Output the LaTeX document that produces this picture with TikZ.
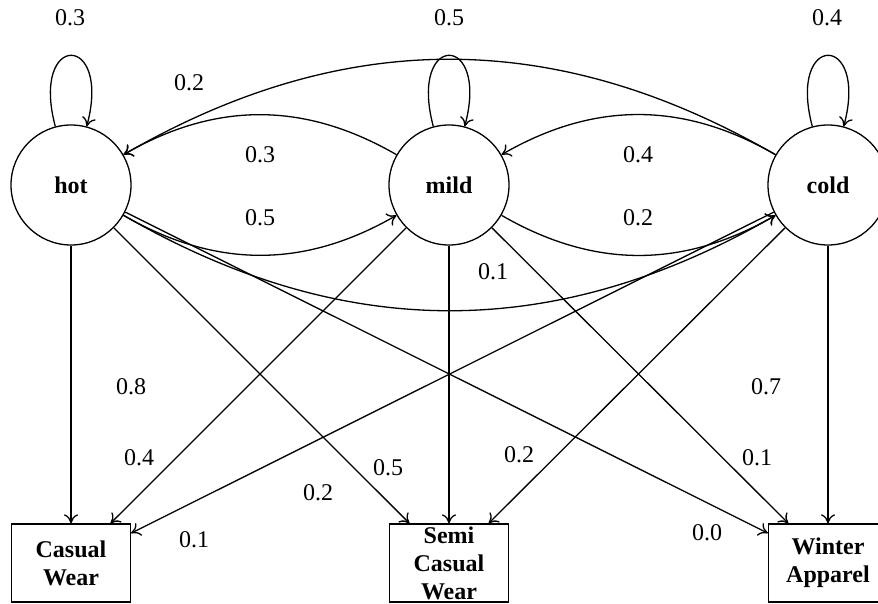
\documentclass[tikz,border=0pt]{standalone}
\usepackage{fontspec}
\setmainfont{Liberation Serif}
\usetikzlibrary{arrows.meta}

\begin{document}
\begin{tikzpicture}[x=1pt,y=1pt,line width=1.3pt,
  font=\fontsize{24}{28}\selectfont,
  >={Computer Modern Rightarrow[length=9pt,width=14pt]},
  wstate/.style={draw,circle,minimum size=120pt,inner sep=0pt,
    font=\fontsize{24}{28}\selectfont\bfseries},
  wear/.style={draw,rectangle,minimum width=119pt,minimum height=78pt,
    inner sep=0pt,align=center,font=\fontsize{24}{28}\selectfont\bfseries}]
\useasboundingbox (0,0) rectangle (878,603);
% hidden states
\node[wstate] (hot) at (71,418) {hot};
\node[wstate] (mild) at (449,418) {mild};
\node[wstate] (cold) at (828,418) {cold};
% observations
\node[wear] (casual) at (71,40) {Casual\\Wear};
\node[wear] (semi) at (449,40) {Semi\\Casual\\Wear};
\node[wear] (winter) at (828,40) {Winter\\Apparel};
% transitions
\draw[->] (hot) to[out=105,in=75,looseness=8] (hot);
\draw[->] (mild) to[out=105,in=75,looseness=8] (mild);
\draw[->] (cold) to[out=105,in=75,looseness=8] (cold);
\draw[->] (hot) to[bend right=30] (mild);
\draw[->] (mild) to[bend right=30] (hot);
\draw[->] (mild) to[bend right=30] (cold);
\draw[->] (cold) to[bend right=30] (mild);
\draw[->] (hot) to[bend right=30] (cold);
\draw[->] (cold) to[bend right=30] (hot);
% emissions
\draw[->] (hot) -- (casual);
\draw[->] (hot) -- (semi);
\draw[->] (hot) -- (winter);
\draw[->] (mild) -- (casual);
\draw[->] (mild) -- (semi);
\draw[->] (mild) -- (winter);
\draw[->] (cold) -- (casual);
\draw[->] (cold) -- (semi);
\draw[->] (cold) -- (winter);
% probabilities
\draw (70,585) node (phh) {0.3};
\draw (449,585) node (pmm) {0.5};
\draw (827,585) node (pcc) {0.4};
\draw (189,520) node (pch) {0.2};
\draw (260,448) node (pmh) {0.3};
\draw (260,385) node (phm) {0.5};
\draw (638,448) node (pcm) {0.4};
\draw (638,385) node (pmc) {0.2};
\draw (493,331) node (phc) {0.1};
\draw (131,216) node (ehc) {0.8};
\draw (139,145) node (emc) {0.4};
\draw (766,216) node (ecw) {0.7};
\draw (757,145) node (emw) {0.1};
\draw (388,135) node (ehs) {0.5};
\draw (318,110) node (ehs2) {0.2};
\draw (519,148) node (ecs) {0.2};
\draw (194,63) node (ecc) {0.1};
\draw (707,70) node (ehw) {0.0};
\end{tikzpicture}
\end{document}
